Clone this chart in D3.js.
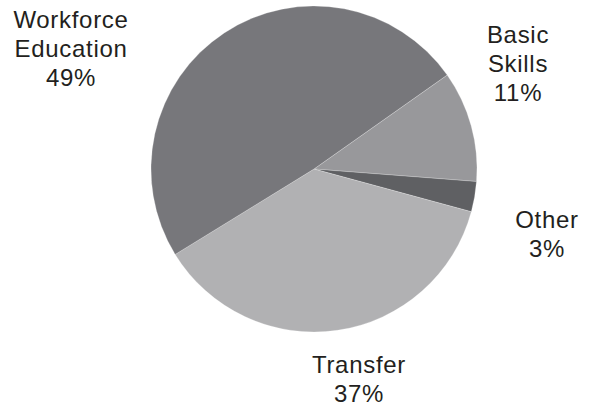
<!DOCTYPE html>
<html><head><meta charset="utf-8">
<script src="https://cdn.jsdelivr.net/npm/d3@7"></script>
<style>body{margin:0;background:#fff}</style>
</head><body>
<svg id="c" width="592" height="406"></svg>
<script>
const categories = ["Basic Skills", "Other", "Transfer", "Workforce Education"];
const values = [11, 3, 37, 49];
const labelLines = [["Basic", "Skills", "11%"], ["Other", "3%"], ["Transfer", "37%"], ["Workforce", "Education", "49%"]];
const colors = ["#98989b", "#5f6063", "#b1b1b3", "#77777b"];

const layout = {cx: 314, cy: 169, r: 163, start: 54.8,
  labels: [[518, 43], [547, 228], [359, 373], [71, 28]]};

const svg = d3.select("#c");
const g = svg.append("g").attr("transform", `translate(${layout.cx},${layout.cy})`);
const pie = d3.pie().sort(null).value(d => d.v)
  .startAngle(layout.start * Math.PI / 180)
  .endAngle(layout.start * Math.PI / 180 + 2 * Math.PI);
const arc = d3.arc().innerRadius(0).outerRadius(layout.r);
const data = categories.map((c, i) => ({c, v: values[i], i}));
g.selectAll("path").data(pie(data)).join("path")
  .attr("d", arc).attr("fill", d => colors[d.data.i])
  .attr("stroke", "#ffffff").attr("stroke-width", 0.4).attr("stroke-opacity", 0.6);

const lbl = svg.append("g").attr("font-family", "Liberation Sans, Arial, sans-serif")
  .attr("font-size", 24).attr("letter-spacing", 0.7).attr("fill", "#231f20").attr("text-anchor", "middle");
labelLines.forEach((lines, i) => {
  const [x, y] = layout.labels[i];
  const t = lbl.append("text").attr("x", x).attr("y", y);
  lines.forEach((s, j) => t.append("tspan").attr("x", x).attr("dy", j === 0 ? 0 : 29).text(s));
});
</script>
</body></html>
